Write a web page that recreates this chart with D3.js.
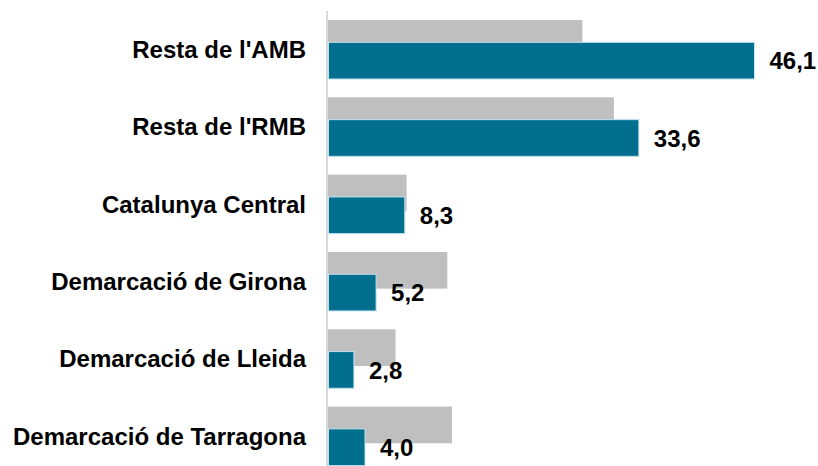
<!DOCTYPE html>
<html>
<head>
<meta charset="utf-8">
<script src="https://cdn.jsdelivr.net/npm/d3@7"></script>
<style>
  html, body { margin: 0; padding: 0; background: #ffffff; }
  svg { display: block; }
</style>
</head>
<body>
<svg id="chart" width="818" height="466"></svg>
<script>
const categories = ["Resta de l'AMB", "Resta de l'RMB", "Catalunya Central", "Demarcació de Girona", "Demarcació de Lleida", "Demarcació de Tarragona"];
const previousValues = [27.5, 30.9, 8.5, 12.9, 7.3, 13.4];
const currentValues = [46.1, 33.6, 8.3, 5.2, 2.8, 4.0];
const valueLabels = ["46,1", "33,6", "8,3", "5,2", "2,8", "4,0"];

const svg = d3.select("#chart");
const font = "'Liberation Sans', Arial, sans-serif";
const fs = 24;

const x = d3.scaleLinear().domain([0, 46.1]).range([328, 754.5]);
const y = d3.scaleBand().domain(categories).range([10.9, 474.7]).paddingInner(0.237).paddingOuter(0.118);
const bw = y.bandwidth();
const barH = bw * 0.622;
const off = bw * 0.378;

// gray (previous) bars
svg.append("g").selectAll("rect").data(categories).join("rect")
  .attr("x", x(0))
  .attr("y", d => y(d))
  .attr("width", (d, i) => x(previousValues[i]) - x(0))
  .attr("height", barH)
  .attr("fill", "#bfbfbf");

// teal (current) bars
svg.append("g").selectAll("rect").data(categories).join("rect")
  .attr("x", x(0) + 0.5)
  .attr("y", d => y(d) + off)
  .attr("width", (d, i) => x(currentValues[i]) - x(0) - 0.5)
  .attr("height", barH)
  .attr("fill", "#036f8f")
  .attr("stroke", "#bfe3ef")
  .attr("stroke-width", 1);

// axis line
svg.append("line")
  .attr("x1", 327).attr("x2", 327)
  .attr("y1", 11).attr("y2", 466)
  .attr("stroke", "#d9d9d9").attr("stroke-width", 2);

// category labels
svg.append("g").selectAll("text").data(categories).join("text")
  .attr("x", 306)
  .attr("y", d => y(d) + bw / 2 + fs * 0.358)
  .attr("text-anchor", "end")
  .attr("font-family", font)
  .attr("font-weight", "bold")
  .attr("font-size", fs)
  .attr("fill", "#000")
  .text(d => d);

// value labels
svg.append("g").selectAll("text").data(categories).join("text")
  .attr("x", (d, i) => x(currentValues[i]) + 15)
  .attr("y", d => y(d) + off + barH / 2 + fs * 0.358)
  .attr("font-family", font)
  .attr("font-weight", "bold")
  .attr("font-size", fs)
  .attr("fill", "#000")
  .text((d, i) => valueLabels[i]);
</script>
</body>
</html>
